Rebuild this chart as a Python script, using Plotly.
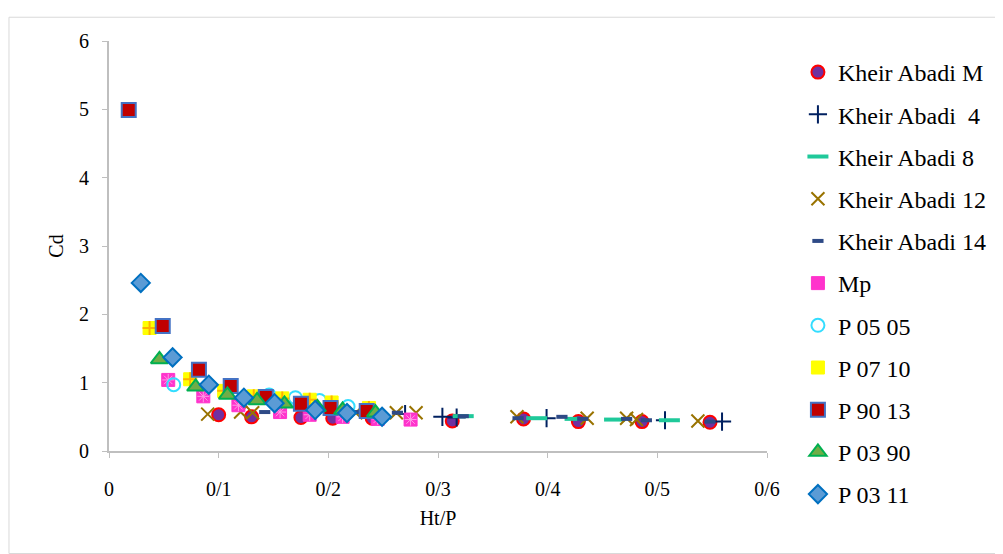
import plotly.graph_objects as go

# ---- data ----
ka_m_x = [0.100, 0.130, 0.175, 0.204, 0.240, 0.313, 0.378, 0.428, 0.486, 0.548]
ka_m_y = [0.53, 0.50, 0.49, 0.48, 0.48, 0.44, 0.47, 0.43, 0.43, 0.42]

ka_4_x = [0.270, 0.304, 0.317, 0.399, 0.507, 0.559]
ka_4_y = [0.54, 0.50, 0.49, 0.48, 0.45, 0.43]

ka_8_x = [0.323, 0.390, 0.425, 0.461, 0.511]
ka_8_y = [0.51, 0.48, 0.47, 0.46, 0.45]

ka_12_x = [0.090, 0.120, 0.131, 0.225, 0.262, 0.280, 0.372, 0.436, 0.472, 0.481, 0.537]
ka_12_y = [0.54, 0.57, 0.56, 0.56, 0.56, 0.56, 0.50, 0.48, 0.48, 0.46, 0.44]

ka_14_x = [0.142, 0.224, 0.263, 0.323, 0.373, 0.413, 0.432, 0.472, 0.490, 0.548]
ka_14_y = [0.57, 0.57, 0.56, 0.51, 0.48, 0.50, 0.47, 0.47, 0.45, 0.43]

mp_x = [0.054, 0.086, 0.118, 0.156, 0.183, 0.213, 0.245, 0.275]
mp_y = [1.04, 0.80, 0.67, 0.57, 0.53, 0.50, 0.47, 0.46]

p0505_x = [0.059, 0.146, 0.170, 0.192, 0.218]
p0505_y = [0.97, 0.82, 0.78, 0.74, 0.65]

p0710_x = [0.037, 0.074, 0.105, 0.132, 0.158, 0.183, 0.203, 0.237]
p0710_y = [1.80, 1.05, 0.88, 0.80, 0.77, 0.75, 0.71, 0.63]

p9013_x = [0.018, 0.049, 0.082, 0.111, 0.143, 0.175, 0.202, 0.235]
p9013_y = [4.99, 1.83, 1.19, 0.95, 0.79, 0.69, 0.63, 0.585]

p0390_x = [0.046, 0.079, 0.108, 0.135, 0.160, 0.190, 0.213, 0.243]
p0390_y = [1.34, 0.94, 0.82, 0.74, 0.69, 0.64, 0.60, 0.56]

p0311_x = [0.029, 0.058, 0.091, 0.123, 0.151, 0.188, 0.217, 0.249]
p0311_y = [2.46, 1.37, 0.97, 0.78, 0.70, 0.60, 0.555, 0.50]

x_ticks = [0, 0.1, 0.2, 0.3, 0.4, 0.5, 0.6]
x_tick_text = ["0", "0/1", "0/2", "0/3", "0/4", "0/5", "0/6"]
y_ticks = [0, 1, 2, 3, 4, 5, 6]

FONT = "Liberation Serif"

fig = go.Figure()

def add(name, xs, ys, symbol, size, color, line_color, line_width, group, overlay=None):
    fig.add_trace(go.Scatter(
        x=xs, y=ys, mode="markers", name=name, legendgroup=group,
        marker=dict(symbol=symbol, size=size, color=color,
                    line=dict(color=line_color, width=line_width)),
    ))
    if overlay is not None:
        osym, osize, ocolor, owidth = overlay
        fig.add_trace(go.Scatter(
            x=xs, y=ys, mode="markers", name=name, legendgroup=group, showlegend=False,
            marker=dict(symbol=osym, size=osize, color=ocolor,
                        line=dict(color=ocolor, width=owidth)),
        ))

add("Kheir Abadi M", ka_m_x, ka_m_y, "circle", 13, "#7030A0", "#FF0000", 2, "g1")
add("Kheir Abadi  4", ka_4_x, ka_4_y, "cross-thin", 13, "#002060", "#002060", 2, "g2")
add("Kheir Abadi 8", ka_8_x, ka_8_y, "line-ew", 15, "#1FC99A", "#1FC99A", 4, "g3")
add("Kheir Abadi 12", ka_12_x, ka_12_y, "x-thin", 13, "#997300", "#997300", 2, "g4")
add("Kheir Abadi 14", ka_14_x, ka_14_y, "line-ew", 8, "#2E4A86", "#2E4A86", 4, "g5")
add("Mp", mp_x, mp_y, "square", 13, "#FF33CC", "#FF33CC", 1, "g6",
    overlay=("asterisk-open", 10, "#FF99E6", 1))
add("P 05 05", p0505_x, p0505_y, "circle-open", 13, "#33DDFF", "#33DDFF", 2, "g7")
add("P 07 10", p0710_x, p0710_y, "square", 13, "#FFFF00", "#FFFF00", 1, "g8",
    overlay=("cross-thin-open", 10, "#FFB000", 2))
add("P 90 13", p9013_x, p9013_y, "square", 14, "#C00000", "#4472C4", 2, "g9")
add("P 03 90", p0390_x, p0390_y, "triangle-up", 15, "#70AD47", "#00B050", 2, "g10")
add("P 03 11", p0311_x, p0311_y, "diamond", 14, "#5B9BD5", "#0070C0", 2, "g11")

axis_common = dict(
    showgrid=False, zeroline=False, showline=True, linecolor="#BFBFBF", linewidth=2,
    ticks="outside", ticklen=5, tickcolor="#BFBFBF", tickwidth=1,
    tickfont=dict(family=FONT, size=20, color="black"),
)

fig.update_layout(
    width=995, height=546,
    margin=dict(l=101, r=236, t=33, b=103, autoexpand=False),
    paper_bgcolor="white", plot_bgcolor="white",
    font=dict(family=FONT, size=20, color="black"),
    xaxis=dict(range=[0, 0.6], tickvals=x_ticks, ticktext=x_tick_text,
               ticklabelstandoff=14,
               title=dict(text="Ht/P", font=dict(family=FONT, size=20), standoff=12),
               **axis_common),
    yaxis=dict(range=[0, 6], tickvals=y_ticks, ticklabelstandoff=9,
               title=dict(text="Cd", font=dict(family=FONT, size=20), standoff=10),
               **axis_common),
    legend=dict(x=1.047, xanchor="left", y=0.978, yanchor="top",
                maxheight=520,
                font=dict(family=FONT, size=24, color="black"),
                traceorder="grouped", tracegroupgap=8,
                bgcolor="rgba(0,0,0,0)"),
    showlegend=True,
)

fig.add_shape(type="rect", xref="paper", yref="paper",
              x0=-0.152, x1=1.356, y0=-0.25, y1=1.058,
              line=dict(color="#D9D9D9", width=1), layer="below")

fig.write_html("out.html")
